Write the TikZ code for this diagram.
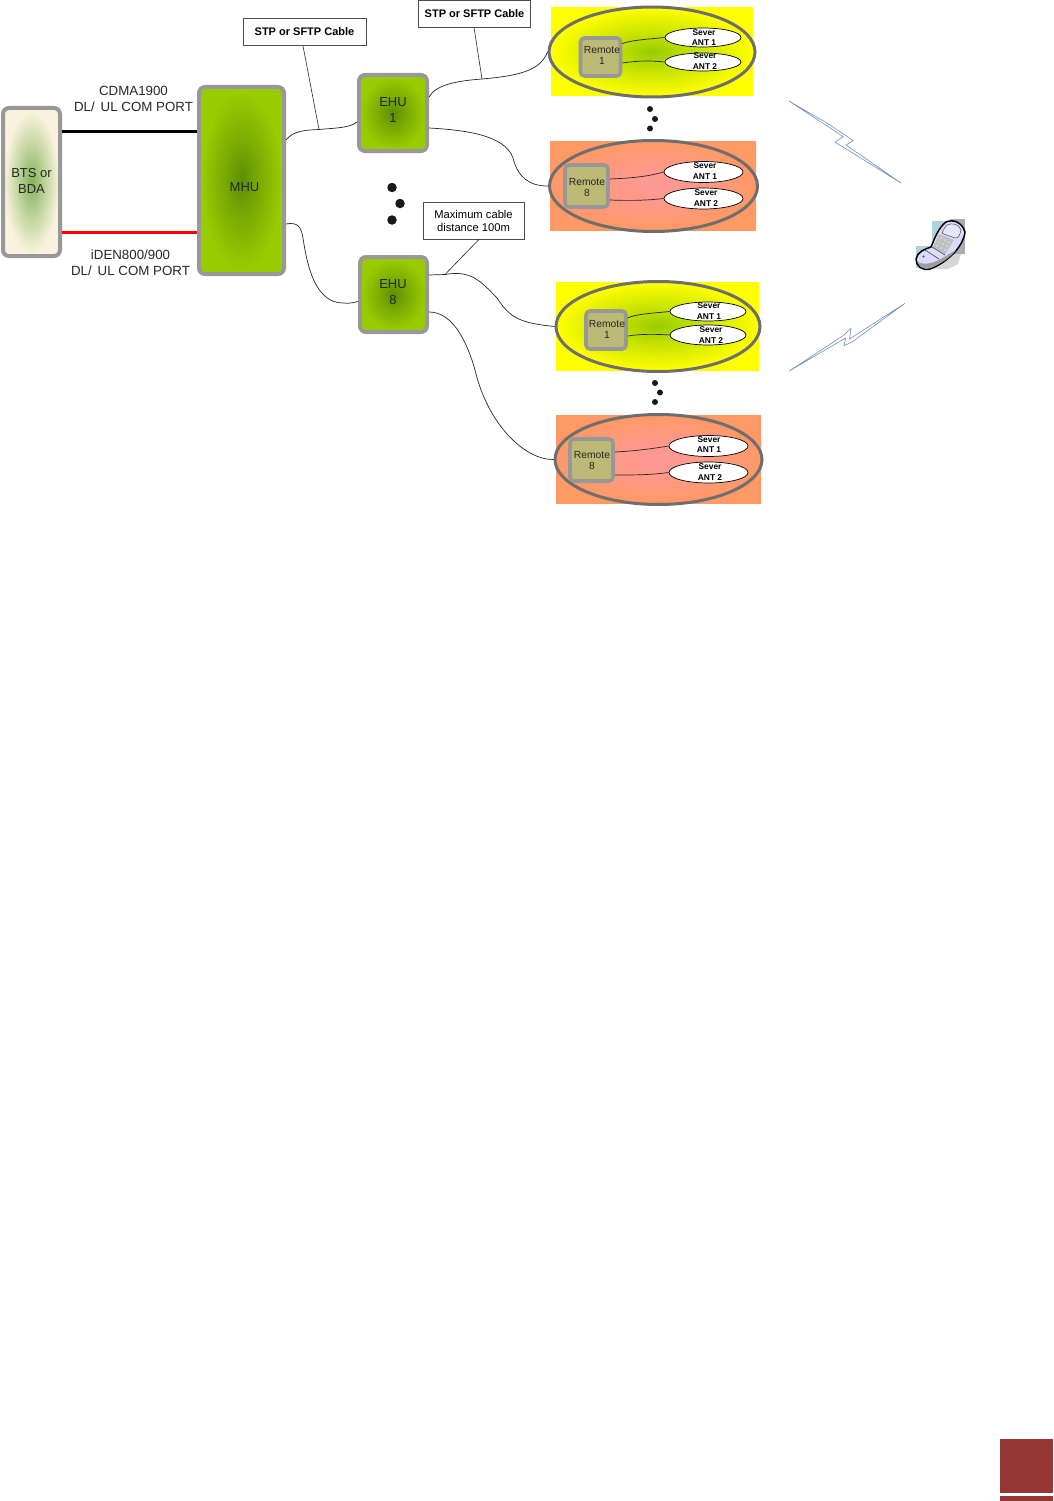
\documentclass[tikz,border=0pt]{standalone}
\usepackage{fontspec}
\setmainfont{Liberation Sans}
\usetikzlibrary{shapes.geometric}
\definecolor{framegrey}{HTML}{989898}
\definecolor{ringgrey}{HTML}{6E6E6E}
\definecolor{tanbox}{HTML}{BDB976}
\definecolor{boltblue}{HTML}{6F8FC4}
\definecolor{pageRed}{HTML}{953735}
\pgfdeclareradialshading{glowgreen}{\pgfpointorigin}{rgb(0bp)=(0.36,0.56,0.02); rgb(12bp)=(0.49,0.69,0.01); rgb(24bp)=(0.60,0.80,0); rgb(50bp)=(0.60,0.80,0)}
\pgfdeclareradialshading{glowcream}{\pgfpointorigin}{rgb(0bp)=(0.52,0.70,0.36); rgb(12bp)=(0.75,0.83,0.62); rgb(24bp)=(0.98,0.95,0.87); rgb(50bp)=(0.98,0.95,0.87)}
\pgfdeclareradialshading{glowyellow}{\pgfpointorigin}{rgb(0bp)=(0.60,0.80,0); rgb(12bp)=(0.80,0.90,0); rgb(25bp)=(1,1,0); rgb(50bp)=(1,1,0)}
\pgfdeclareradialshading{gloworange}{\pgfpointorigin}{rgb(0bp)=(1,0.60,0.60); rgb(12bp)=(1,0.60,0.52); rgb(25bp)=(1,0.60,0.40); rgb(50bp)=(1,0.60,0.40)}
\tikzset{
  x=1pt,y=-1pt,
  unitbox/.style={draw=framegrey,line width=4pt,rounded corners=6pt,shading=glowgreen,inner sep=0pt,align=center,font=\fontsize{13}{16}\selectfont},
  btsbox/.style={unitbox,shading=glowcream},
  remotebox/.style={draw=framegrey,line width=3.6pt,rounded corners=4pt,fill=tanbox,inner sep=0pt},
  remotetext/.style={inner sep=0pt,align=center,text=black!85,font=\fontsize{10.3}{11}\selectfont},
  unittext/.style={inner sep=0pt,align=center,text=black!85,font=\fontsize{13}{16}\selectfont},
  panelY/.style={shading=glowyellow,inner sep=0pt},
  panelO/.style={shading=gloworange,inner sep=0pt},
  ring/.style={ellipse,draw=ringgrey,line width=3pt,inner sep=0pt},
  antenna/.style={ellipse,draw=black,line width=.7pt,fill=white,inner sep=0pt},
  antlabel/.style={inner sep=0pt,font=\bfseries\fontsize{8.4}{10}\selectfont},
  portlabel/.style={inner sep=0pt,align=center,font=\fontsize{13.3}{16}\selectfont,text=black!85},
  callout/.style={draw=black!70,line width=.7pt,fill=white,inner sep=0pt,align=center},
  cable/.style={draw=black!85,line width=.7pt},
  leader/.style={draw=black!85,line width=.6pt},
  dotmark/.style={circle,fill=black!90,inner sep=0pt},
  bolt/.style={draw=boltblue,line width=.6pt,fill=white,line join=miter},
}
\begin{document}
\begin{tikzpicture}
\useasboundingbox (0,0) rectangle (1053,1501);
% units
\node[btsbox,minimum width=57pt,minimum height=148pt] (bts) at (31.5,182) {};
\node[unitbox,minimum width=85pt,minimum height=187pt] (mhu) at (241.5,180.5) {};
\node[unitbox,minimum width=68pt,minimum height=76pt] (ehuA) at (393,113) {};
\node[unitbox,minimum width=67pt,minimum height=75pt] (ehuB) at (393.5,294.5) {};
\node[unittext] (btsT) at (31.5,181) {BTS or\\BDA};
\node[unittext] (mhuT) at (244.5,187) {MHU};
\node[unittext] (ehuAT) at (393,110.5) {EHU\\1};
\node[unittext] (ehuBT) at (393,292) {EHU\\8};
\draw[line width=3pt,black] (bts.east |- 0,132) -- (mhu.west |- 0,132);
\draw[line width=3pt,red] (bts.east |- 0,232) -- (mhu.west |- 0,232);
\node[portlabel] (portA) at (133.5,99) {CDMA1900\\DL/ \,UL COM PORT};
\node[portlabel] (portB) at (130.5,263) {iDEN800/900\\DL/ \,UL COM PORT};
% panels
\node[panelY,minimum width=202pt,minimum height=88pt] (panelA) at (652,52) {};
\node[panelO,minimum width=206pt,minimum height=89pt] (panelB) at (653,185.5) {};
\node[panelY,minimum width=203pt,minimum height=88pt] (panelC) at (657.5,326) {};
\node[panelO,minimum width=205pt,minimum height=88pt] (panelD) at (658.5,459) {};
\node[ring,minimum width=206pt,minimum height=90pt] (ringA) at (652,52) {};
\node[ring,minimum width=208pt,minimum height=91pt] (ringB) at (653.5,186) {};
\node[ring,minimum width=204pt,minimum height=90pt] (ringC) at (658,326.5) {};
\node[ring,minimum width=207pt,minimum height=90pt] (ringD) at (658.5,459.5) {};
% remotes
\node[remotebox,minimum width=40pt,minimum height=38pt] (remA) at (600.5,57) {};
\node[remotebox,minimum width=43pt,minimum height=42pt] (remB) at (586.5,186) {};
\node[remotebox,minimum width=40pt,minimum height=38pt] (remC) at (606,330) {};
\node[remotebox,minimum width=43pt,minimum height=42pt] (remD) at (591.5,460) {};
\node[remotetext] (remAT) at (602,55.5) {Remote\\1};
\node[remotetext] (remBT) at (587,187.5) {Remote\\8};
\node[remotetext] (remCT) at (607,329.5) {Remote\\1};
\node[remotetext] (remDT) at (592,461) {Remote\\8};
% antennas
\node[antenna,minimum width=76pt,minimum height=19pt] (antA1) at (703,37.5) {};
\node[antenna,minimum width=76pt,minimum height=18pt] (antA2) at (703,62) {};
\node[antenna,minimum width=79pt,minimum height=21pt] (antB1) at (703.5,172) {};
\node[antenna,minimum width=79pt,minimum height=21pt] (antB2) at (703.5,198.5) {};
\node[antenna,minimum width=76pt,minimum height=19pt] (antC1) at (708,311.5) {};
\node[antenna,minimum width=76pt,minimum height=20pt] (antC2) at (708,335) {};
\node[antenna,minimum width=79pt,minimum height=21pt] (antD1) at (708.5,446) {};
\node[antenna,minimum width=79pt,minimum height=21pt] (antD2) at (708.5,472.5) {};
\node[antlabel] (tA1a) at (704,32.5) {Sever};
\node[antlabel] (tA1b) at (704,42.5) {ANT 1};
\node[antlabel] (tA2a) at (705,56) {Sever};
\node[antlabel] (tA2b) at (705,66.5) {ANT 2};
\node[antlabel] (tB1a) at (705,166) {Sever};
\node[antlabel] (tB1b) at (705,176.5) {ANT 1};
\node[antlabel] (tB2a) at (706,193) {Sever};
\node[antlabel] (tB2b) at (706,204) {ANT 2};
\node[antlabel] (tC1a) at (709,306) {Sever};
\node[antlabel] (tC1b) at (709,316.5) {ANT 1};
\node[antlabel] (tC2a) at (711,330) {Sever};
\node[antlabel] (tC2b) at (711,340.5) {ANT 2};
\node[antlabel] (tD1a) at (709,439.5) {Sever};
\node[antlabel] (tD1b) at (709,450) {ANT 1};
\node[antlabel] (tD2a) at (710,467) {Sever};
\node[antlabel] (tD2b) at (710,477.5) {ANT 2};
% remote-to-antenna lines
\draw[cable] (remA.east |- 0,43.5) .. controls (632,40) and (650,39) .. (antA1.west);
\draw[cable] (remA.east |- 0,63) .. controls (640,60.5) and (650,60.5) .. (antA2.west);
\draw[cable] (remB.east |- 0,179) .. controls (635,178) and (650,176) .. (antB1.west);
\draw[cable] (remB.east |- 0,200) .. controls (635,201) and (650,200) .. (antB2.west);
\draw[cable] (remC.east |- 0,318) .. controls (635,314) and (655,313) .. (antC1.west);
\draw[cable] (remC.east |- 0,336) .. controls (640,334) and (655,334) .. (antC2.west);
\draw[cable] (remD.east |- 0,452) .. controls (635,451) and (650,449) .. (antD1.west);
\draw[cable] (remD.east |- 0,475) .. controls (635,475) and (650,475) .. (antD2.west);
% cables
\coordinate (tapA) at (319,129.5);
\coordinate (tapB) at (482,79);
\coordinate (tapC) at (445,274.5);
\draw[cable] (286,140) .. controls (293,131) and (305,130) .. (tapA) .. controls (335,128) and (350,128) .. (ehuA.west |- 0,122);
\draw[cable] (286,224) .. controls (297,222) and (301,226) .. (303,238) .. controls (307,265) and (315,303) .. (343,303) .. controls (350,304) and (355,302) .. (ehuB.west |- 0,301.5);
\draw[cable] (ehuA.east |- 0,97) .. controls (436,85) and (455,81) .. (tapB) .. controls (515,76) and (540,72) .. (ringA.west);
\draw[cable] (ehuA.east |- 0,128) .. controls (465,130) and (505,135) .. (513,158) .. controls (518,178) and (530,186) .. (ringB.west);
\draw[cable] (ehuB.east |- 0,275) -- (tapC) .. controls (470,270) and (480,280) .. (497,298) .. controls (510,318) and (520,323) .. (ringC.west);
\draw[cable] (ehuB.east |- 0,312) .. controls (450,312) and (465,335) .. (475,370) .. controls (488,425) and (525,460) .. (ringD.west);
% callouts
\node[callout,minimum width=123pt,minimum height=27pt,font=\bfseries\fontsize{11}{13}\selectfont] (noteA) at (304.5,32) {STP or SFTP Cable};
\node[callout,minimum width=112pt,minimum height=27pt,font=\bfseries\fontsize{11}{13}\selectfont] (noteB) at (474.5,13.5) {STP or SFTP Cable};
\node[callout,minimum width=101pt,minimum height=37pt,font=\fontsize{11.2}{13}\selectfont] (noteC) at (473.5,220.5) {Maximum cable\\distance 100m};
\draw[leader] (noteA.south -| 303,0) -- (tapA);
\draw[leader] (noteB.south -| 474,0) -- (tapB);
\draw[leader] (noteC.south -| 479,0) -- (tapC);
% dots
\foreach \n/\px/\py in {d1/392/187.5,d2/400/203.5,d3/392/220}
  \node[dotmark,minimum size=9.5pt] (\n) at (\px,\py) {};
\foreach \n/\px/\py in {e1/650/109,e2/655/119,e3/650/128.5,f1/655/383,f2/660/392.5,f3/655/402}
  \node[dotmark,minimum size=6pt] (\n) at (\px,\py) {};
% lightning
\draw[bolt] (789,101) -- (830,125) -- (853.3,140.7) -- (846,145) -- (901,183) -- (843,147) -- (835,142.3) -- (843.3,136.7) -- cycle;
\draw[bolt] (789.3,371) -- (844,335) -- (851,328.3) -- (849.5,339) -- (905,303.3) -- (852,342) -- (844,345.7) -- (845.5,338) -- cycle;
% phone: backdrop pieces
\fill[blue!20!cyan!18!white!85!black] (932,221) rectangle (950,240);
\fill[blue!20!cyan!18!white!85!black] (916,246) rectangle (932,268);
\fill[black!32] (950,219) rectangle (965,254);
\fill[black!16] (940,254) -- (961,254) -- (958,264) -- (948,269) -- (928,269) -- cycle;
% phone: body
\draw[black,line width=1.5pt,fill=blue!14!white,line join=round]
  (946,222) .. controls (953,219) and (962,222) .. (965,232)
  .. controls (964,240) and (960,246) .. (955,252)
  .. controls (949,258) and (941,265) .. (930,269)
  .. controls (922,271) and (916,266) .. (916,259)
  .. controls (917,252) and (925,249) .. (931,247)
  .. controls (934,240) and (938,228) .. (946,222) -- cycle;
% phone: lower shade of the base
\fill[black!38] (918,262) .. controls (925,266) and (936,263) .. (949,254) -- (956,250)
  .. controls (951,257) and (941,264) .. (930,268) .. controls (924,269.5) and (919,267) .. (918,262) -- cycle;
% phone: lid window
\draw[black!70,line width=.5pt,fill=white!90!blue]
  (947,225) .. controls (952,222.5) and (959,224) .. (961,230) .. controls (960,235) and (958,239) .. (955,238)
  .. controls (950,236) and (945,235) .. (942,233) .. controls (943,230) and (945,227) .. (947,225) -- cycle;
% phone: keypad
\fill[black!25] (939,234) -- (954,240) -- (945,254) -- (933,247) -- cycle;
\foreach \kx/\ky in {941/238,945/240,949/242,939/242,943/244,947/246,937/246,941/248,945/250}
  \fill[white!85!black] (\kx,\ky) circle (1.1pt);
% phone: hinge and details
\draw[black!75,line width=.6pt] (932,247) -- (945,255);
\draw[black!75,line width=.6pt] (925,250) -- (939,259);
\fill[black!70] (923.5,256.5) circle (1.2pt);
% page mark
\fill[pageRed] (1000,1439) rectangle (1053,1492.7);
\fill[pageRed] (1000,1496) rectangle (1053,1501);
\end{tikzpicture}
\end{document}
